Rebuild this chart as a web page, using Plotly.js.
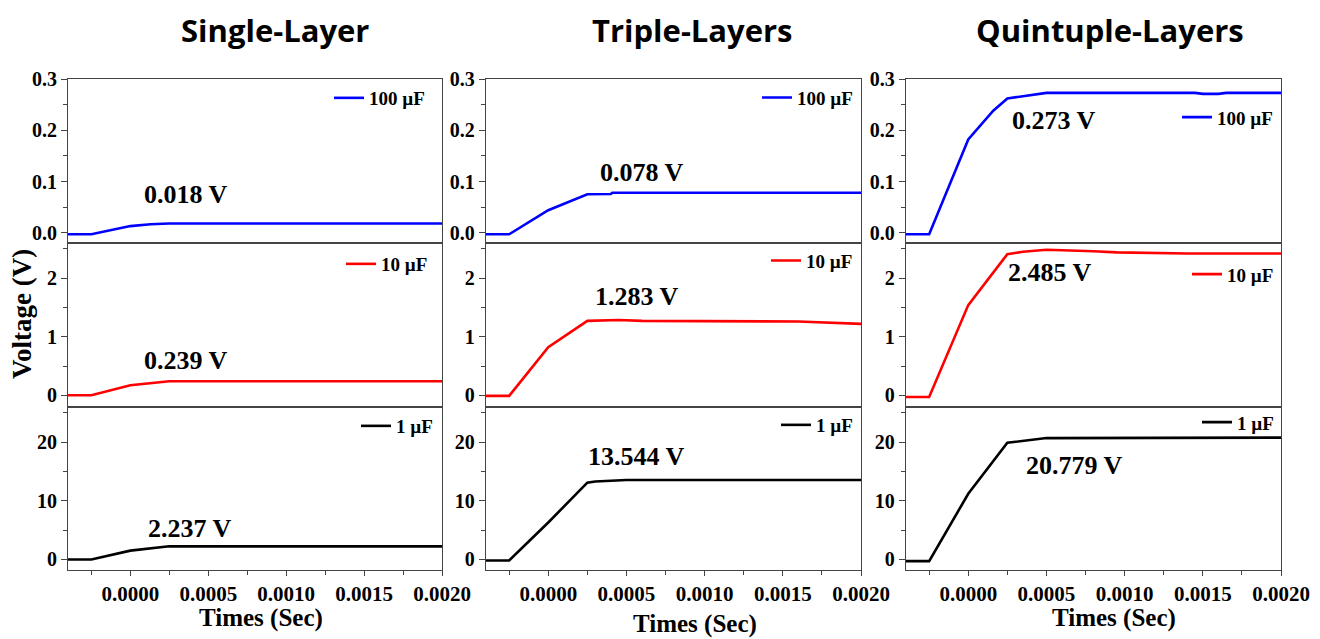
<!DOCTYPE html>
<html>
<head>
<meta charset="utf-8">
<script src="https://cdn.plot.ly/plotly-3.0.1.min.js"></script>
<style>html,body{margin:0;padding:0;background:#fff;}#chart{width:1320px;height:639px;}</style>
</head>
<body>
<div id="chart"></div>
<script>
// ---- data ----
const panelTitles = ["Single-Layer", "Triple-Layers", "Quintuple-Layers"];
const seriesNames = ["100 µF", "10 µF", "1 µF"];
const seriesColors = ["#0000FF", "#FF0000", "#000000"];
const xTitle = "Times (Sec)";
const yTitle = "Voltage (V)";

// Single-Layer
const tSingle100 = [-0.0004, -0.00025, 0, 0.00013, 0.00025, 0.002];
const vSingle100 = [-0.003, -0.003, 0.013, 0.0165, 0.018, 0.018];
const tSingle10 = [-0.0004, -0.00025, 0, 0.0001, 0.00025, 0.002];
const vSingle10 = [0, 0, 0.17, 0.2, 0.239, 0.239];
const tSingle1 = [-0.0004, -0.00025, 0, 0.00025, 0.002];
const vSingle1 = [0, 0, 1.5, 2.237, 2.237];

// Triple-Layers
const tTriple100 = [-0.0004, -0.00025, 0, 0.00025, 0.0004, 0.00041, 0.002];
const vTriple100 = [-0.003, -0.003, 0.044, 0.075, 0.0755, 0.078, 0.078];
const tTriple10 = [-0.0004, -0.00025, 0, 0.00025, 0.00045, 0.0006, 0.0016, 0.00185, 0.002];
const vTriple10 = [-0.01, -0.01, 0.82, 1.27, 1.285, 1.27, 1.26, 1.235, 1.22];
const tTriple1 = [-0.0004, -0.00025, 0, 0.00025, 0.0003, 0.0005, 0.002];
const vTriple1 = [-0.17, -0.17, 6.3, 13.1, 13.3, 13.544, 13.544];

// Quintuple-Layers
const tQuint100 = [-0.0004, -0.00025, 0, 0.00016, 0.00025, 0.0005, 0.00145, 0.0015, 0.0016, 0.00165, 0.002];
const vQuint100 = [-0.003, -0.003, 0.182, 0.238, 0.262, 0.273, 0.273, 0.271, 0.271, 0.273, 0.273];
const tQuint10 = [-0.0004, -0.00025, 0, 0.00025, 0.00035, 0.0005, 0.0008, 0.00095, 0.0014, 0.002];
const vQuint10 = [-0.03, -0.03, 1.54, 2.41, 2.45, 2.485, 2.46, 2.44, 2.42, 2.42];
const tQuint1 = [-0.0004, -0.00025, 0, 0.00025, 0.0005, 0.002];
const vQuint1 = [-0.29, -0.29, 11.2, 19.9, 20.7, 20.78];

const valueLabels = [
  ["0.018 V", "0.239 V", "2.237 V"],
  ["0.078 V", "1.283 V", "13.544 V"],
  ["0.273 V", "2.485 V", "20.779 V"]
];
// label anchor positions (data coords) [t, v]
const labelT = [[0.000359, 0.000359, 0.000385], [0.000601, 0.000569, 0.000564], [0.000548, 0.000522, 0.000677]];
const labelV = [[0.0746, 0.59, 5.33], [0.118, 1.685, 17.6], [0.2188, 2.096, 16.06]];

const seriesT = [[tSingle100, tSingle10, tSingle1], [tTriple100, tTriple10, tTriple1], [tQuint100, tQuint10, tQuint1]];
const seriesV = [[vSingle100, vSingle10, vSingle1], [vTriple100, vTriple10, vTriple1], [vQuint100, vQuint10, vQuint1]];

// ---- layout ----
const W = 1320, H = 639;
const colX = [[68, 442], [485.7, 861], [905.7, 1281]];
const rowY = [[79, 243], [243, 407], [407, 570]];
const yRanges = [[-0.02, 0.3], [-0.2, 2.6], [-1.8, 26]];
const yDtick = [0.1, 1, 10];
const yMinor = [0.05, 0.5, 5];
const yFmt = [".1f", "d", "d"];
const legendPos = [
  [[430, 98], [433, 264], [438, 426]],
  [[858, 97.7], [858, 260.7], [858, 425]],
  [[1278, 117.3], [1279, 274.3], [1279, 422.3]]
];
const xTitlePos = [[261, 618], [695, 624], [1114, 618]];
const panelTitleX = [275, 692, 1110];

const serif = "Liberation Serif";
const axisColor = "#444";
function tf(s) { return {family: serif, size: s, color: "#000", weight: "bold"}; }

const traces = [];
const layout = {
  width: W, height: H,
  margin: {l: 0, r: 0, t: 0, b: 0, autoexpand: false},
  paper_bgcolor: "#fff", plot_bgcolor: "#fff",
  font: {family: serif, size: 19, color: "#000", weight: "bold"},
  showlegend: true,
  annotations: []
};

for (let c = 0; c < 3; c++) {
  for (let r = 0; r < 3; r++) {
    const k = r * 3 + c + 1;
    const xa = k === 1 ? "x" : "x" + k;
    const ya = k === 1 ? "y" : "y" + k;
    const lg = k === 1 ? "legend" : "legend" + k;
    traces.push({
      x: seriesT[c][r], y: seriesV[c][r],
      xaxis: xa, yaxis: ya, legend: lg,
      type: "scatter", mode: "lines",
      name: seriesNames[r],
      line: {color: seriesColors[r], width: 2.6},
      hoverinfo: "skip"
    });
    const bottom = r === 2;
    layout["xaxis" + (k === 1 ? "" : k)] = {
      domain: [colX[c][0] / W, colX[c][1] / W],
      anchor: ya,
      range: [-0.0004, 0.002],
      showline: true, mirror: true, linecolor: axisColor, linewidth: 1,
      showgrid: false, zeroline: false,
      ticks: bottom ? "outside" : "",
      ticklen: 5, tickcolor: axisColor, tickwidth: 1,
      showticklabels: bottom,
      tick0: 0, dtick: 0.0005, tickformat: ".4f",
      tickfont: tf(21),
      minor: bottom ? {tick0: 0, dtick: 0.00025, ticks: "outside", ticklen: 4, tickcolor: axisColor} : {ticks: ""},
      fixedrange: true
    };
    layout["yaxis" + (k === 1 ? "" : k)] = {
      domain: [1 - rowY[r][1] / H, 1 - rowY[r][0] / H],
      anchor: xa,
      range: yRanges[r],
      showline: true, mirror: true, linecolor: axisColor, linewidth: 1,
      showgrid: false, zeroline: false,
      ticks: "outside", ticklen: 6, tickcolor: axisColor, tickwidth: 1,
      tick0: 0, dtick: yDtick[r], tickformat: yFmt[r],
      tickfont: tf(20),
      minor: {tick0: 0, dtick: yMinor[r], ticks: "outside", ticklen: 4, tickcolor: axisColor},
      fixedrange: true
    };
    layout[lg] = {
      x: legendPos[c][r][0] / W, xanchor: "right",
      y: 1 - legendPos[c][r][1] / H, yanchor: "middle",
      bgcolor: "rgba(0,0,0,0)", borderwidth: 0,
      font: {family: serif, size: 19, color: "#000", weight: "bold"},
      itemclick: false, itemdoubleclick: false
    };
    layout.annotations.push({
      xref: xa, yref: ya, x: labelT[c][r], y: labelV[c][r],
      text: valueLabels[c][r], showarrow: false,
      xanchor: "center", yanchor: "middle",
      font: {family: serif, size: 26, color: "#000", weight: "bold"}
    });
  }
  layout.annotations.push({
    xref: "paper", yref: "paper", x: panelTitleX[c] / W, y: 1 - 30 / H,
    text: panelTitles[c], showarrow: false, xanchor: "center", yanchor: "middle",
    font: {family: "Open Sans", size: 31, color: "#000", weight: "bold"}
  });
  layout.annotations.push({
    xref: "paper", yref: "paper", x: xTitlePos[c][0] / W, y: 1 - xTitlePos[c][1] / H,
    text: xTitle, showarrow: false, xanchor: "center", yanchor: "middle",
    font: {family: serif, size: 25, color: "#000", weight: "bold"}
  });
}
layout.annotations.push({
  xref: "paper", yref: "paper", x: 22 / W, y: 1 - 314 / H,
  text: yTitle, showarrow: false, textangle: -90, xanchor: "center", yanchor: "middle",
  font: {family: serif, size: 27, color: "#000", weight: "bold"}
});

Plotly.newPlot("chart", traces, layout, {displayModeBar: false, staticPlot: true});
</script>
</body>
</html>
